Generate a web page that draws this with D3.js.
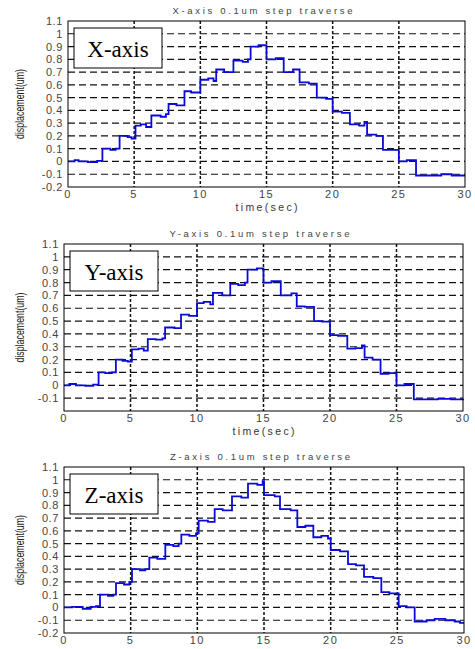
<!DOCTYPE html>
<html>
	<head>
		<title>Step traverse</title>
		<style>
			body, html {
				margin: 0;
				padding: 0;
				background: #fff;
			}
		</style>
	</head>
	<body>

		<svg id="svg" width="475" height="649"></svg>

		<script src="https://d3js.org/d3.v7.min.js"></script>
		<script>
			// Axis ticks
			const xTicks = [0, 5, 10, 15, 20, 25, 30]
			const yTicks = [-0.2, -0.1, 0, 0.1, 0.2, 0.3, 0.4, 0.5, 0.6, 0.7, 0.8, 0.9, 1, 1.1]
			const yLabels = ['-0.2', '-0.1', '0', '0.1', '0.2', '0.3', '0.4', '0.5', '0.6', '0.7', '0.8', '0.9', '1', '1.1']

			// Time (sec) where each level starts, and the level (um)
			const xTime = [0, 0.5, 0.8, 1.5, 2.2, 2.6, 3.2, 3.6, 3.9, 4.5, 4.8, 5.1, 5.5, 5.9, 6.3, 7.0, 7.4, 7.6, 8.2, 8.8, 9.3, 10, 10.6, 11, 11.2, 11.8, 12.5, 13.2, 13.6, 13.8, 14.4, 15, 15.7, 16.3, 17, 17.5, 18.2, 18.8, 19.5, 20, 20.7, 21.3, 22, 22.4, 22.6, 23.3, 23.8, 24.5, 25, 25.6, 26.3, 27.5, 28.2, 29, 30]
			const xDisp = [0, 0.01, 0, -0.005, 0.005, 0.1, 0.09, 0.1, 0.2, 0.19, 0.18, 0.28, 0.29, 0.27, 0.36, 0.35, 0.37, 0.45, 0.44, 0.55, 0.54, 0.64, 0.65, 0.63, 0.72, 0.7, 0.79, 0.78, 0.8, 0.9, 0.91, 0.8, 0.81, 0.7, 0.72, 0.62, 0.61, 0.5, 0.49, 0.39, 0.38, 0.29, 0.28, 0.31, 0.21, 0.2, 0.09, 0.09, 0, 0.01, -0.11, -0.11, -0.1, -0.11, -0.11]

			const yTime = [0, 0.4, 0.9, 1.6, 2.2, 2.6, 3.1, 3.6, 3.9, 4.4, 4.8, 5.1, 5.6, 6.0, 6.3, 6.9, 7.4, 7.6, 8.3, 8.8, 9.4, 10, 10.5, 11, 11.2, 11.9, 12.5, 13.1, 13.6, 13.8, 14.5, 15, 15.6, 16.3, 17.1, 17.5, 18.1, 18.8, 19.4, 20, 20.6, 21.3, 21.9, 22.4, 22.6, 23.2, 23.8, 24.4, 25, 25.6, 26.3, 27.3, 28.1, 29.1, 30]
			const yDisp = [0, 0.01, 0, -0.005, 0.005, 0.1, 0.095, 0.1, 0.2, 0.19, 0.185, 0.28, 0.285, 0.27, 0.36, 0.355, 0.365, 0.45, 0.445, 0.55, 0.54, 0.64, 0.65, 0.63, 0.72, 0.7, 0.79, 0.78, 0.8, 0.9, 0.91, 0.8, 0.81, 0.7, 0.715, 0.615, 0.61, 0.5, 0.495, 0.39, 0.385, 0.285, 0.29, 0.31, 0.215, 0.2, 0.09, 0.095, 0, 0.01, -0.11, -0.11, -0.105, -0.11, -0.105]

			const zTime = [0, 0.6, 1.4, 2.0, 2.4, 2.7, 3.3, 3.7, 3.9, 4.5, 4.9, 5.1, 5.7, 6.1, 6.4, 7.0, 7.6, 8.2, 8.6, 8.8, 9.4, 9.9, 10.1, 10.8, 11.3, 11.9, 12.6, 13.3, 13.8, 14.5, 14.9, 15, 15.8, 16.2, 17.0, 17.5, 18.1, 18.7, 19.3, 19.8, 20, 20.7, 21.3, 21.9, 22.5, 23.2, 23.8, 24.4, 25.1, 25.7, 26.3, 27.2, 27.8, 28.6, 29.3, 29.7, 30]
			const zDisp = [0, 0.005, -0.01, 0.005, 0.01, 0.1, 0.09, 0.1, 0.19, 0.18, 0.2, 0.3, 0.29, 0.3, 0.39, 0.38, 0.49, 0.48, 0.5, 0.57, 0.56, 0.58, 0.68, 0.67, 0.77, 0.76, 0.87, 0.86, 0.97, 0.96, 0.99, 0.88, 0.87, 0.77, 0.76, 0.63, 0.64, 0.55, 0.56, 0.54, 0.45, 0.44, 0.34, 0.33, 0.24, 0.23, 0.12, 0.11, 0.01, 0, -0.11, -0.1, -0.09, -0.1, -0.11, -0.12, -0.12]

			const panels = [
				{ label: 'X-axis', title: 'X-axis 0.1um step traverse', time: xTime, disp: xDisp, left: 68, right: 465, top: 21, bottom: 187, xlabel: true, lowLabel: true },
				{ label: 'Y-axis', title: 'Y-axis 0.1um step traverse', time: yTime, disp: yDisp, left: 64, right: 463, top: 244, bottom: 411, xlabel: true, lowLabel: false },
				{ label: 'Z-axis', title: 'Z-axis 0.1um step traverse', time: zTime, disp: zDisp, left: 64, right: 464, top: 467, bottom: 633, xlabel: false, lowLabel: true }
			]

			const svg = d3.select('#svg')
			const tickFont = '"Liberation Sans", Arial, sans-serif'

			panels.forEach(p => {
				const x = d3.scaleLinear().domain([0, 30]).range([p.left, p.right])
				const y = d3.scaleLinear().domain([-0.2, 1.1]).range([p.bottom, p.top])
				const g = svg.append('g')

				// horizontal grid (long dashes)
				g.selectAll('line.hgrid')
					.data(yTicks.filter(v => v > -0.15 && v < 1.05))
					.enter()
					.append('line')
					.attr('x1', p.left)
					.attr('x2', p.right)
					.attr('y1', d => y(d))
					.attr('y2', d => y(d))
					.attr('stroke', '#111')
					.attr('stroke-width', 1.2)
					.attr('stroke-dasharray', '7,4')

				// vertical grid (short dashes)
				g.selectAll('line.vgrid')
					.data(xTicks.slice(1, -1))
					.enter()
					.append('line')
					.attr('x1', d => x(d))
					.attr('x2', d => x(d))
					.attr('y1', p.top)
					.attr('y2', p.bottom)
					.attr('stroke', '#111')
					.attr('stroke-width', 1.5)
					.attr('stroke-dasharray', '3,2')

				// the step signal
				const pts = p.time.map((t, i) => [t, p.disp[i]])
				const line = d3.line()
					.x(d => x(d[0]))
					.y(d => y(d[1]))
					.curve(d3.curveStepAfter)

				g.append('path')
					.datum(pts)
					.attr('d', line)
					.attr('fill', 'none')
					.attr('stroke', '#0a0ad8')
					.attr('stroke-width', 1.8)

				// box round the plot
				g.append('rect')
					.attr('x', p.left)
					.attr('y', p.top)
					.attr('width', p.right - p.left)
					.attr('height', p.bottom - p.top)
					.attr('fill', 'none')
					.attr('stroke', '#000')
					.attr('stroke-width', 1)

				// tick labels (the Y panel has no -0.2 label)
				const shown = p.lowLabel ? yTicks : yTicks.slice(1)
				g.selectAll('text.yt')
					.data(shown)
					.enter()
					.append('text')
					.attr('x', p.left - 5)
					.attr('y', d => y(d) + 4)
					.attr('text-anchor', 'end')
					.attr('font-family', tickFont)
					.attr('font-size', 11)
					.attr('letter-spacing', 0.6)
					.attr('fill', '#444')
					.text(d => yLabels[yTicks.indexOf(d)])

				g.selectAll('text.xt')
					.data(xTicks)
					.enter()
					.append('text')
					.attr('x', d => x(d))
					.attr('y', p.bottom + 11)
					.attr('text-anchor', 'middle')
					.attr('font-family', tickFont)
					.attr('font-size', 11)
					.attr('letter-spacing', 1.5)
					.attr('fill', '#444')
					.text(d => d)

				// title
				g.append('text')
					.attr('x', (p.left + p.right) / 2 - 4)
					.attr('y', p.top - 7)
					.attr('text-anchor', 'middle')
					.attr('font-family', tickFont)
					.attr('font-size', 9.5)
					.attr('fill', '#444')
					.attr('textLength', 180)
					.attr('lengthAdjust', 'spacing')
					.text(p.title)

				// y label
				g.append('text')
					.attr('transform', `translate(24, ${(p.top + p.bottom) / 2}) rotate(-90)`)
					.attr('text-anchor', 'middle')
					.attr('font-family', tickFont)
					.attr('font-size', 12.5)
					.attr('fill', '#222')
					.attr('textLength', 70)
					.attr('lengthAdjust', 'spacingAndGlyphs')
					.text('displacement(um)')

				if (p.xlabel) {
					g.append('text')
						.attr('x', (p.left + p.right) / 2)
						.attr('y', p.bottom + 24)
						.attr('text-anchor', 'middle')
						.attr('font-family', tickFont)
						.attr('font-size', 10.5)
						.attr('fill', '#333')
						.attr('textLength', 62)
						.attr('lengthAdjust', 'spacing')
						.text('time(sec)')
				}

				// label box
				const bx = p.left + 6
				const by = p.top + 7
				g.append('rect')
					.attr('x', bx)
					.attr('y', by)
					.attr('width', 88)
					.attr('height', 40)
					.attr('fill', '#fff')
					.attr('stroke', '#000')
					.attr('stroke-width', 1)

				g.append('text')
					.attr('x', bx + 44)
					.attr('y', by + 29)
					.attr('text-anchor', 'middle')
					.attr('font-family', '"Liberation Serif", "Times New Roman", serif')
					.attr('font-size', 23)
					.attr('fill', '#000')
					.text(p.label)
			})
		</script>
	</body>
</html>
